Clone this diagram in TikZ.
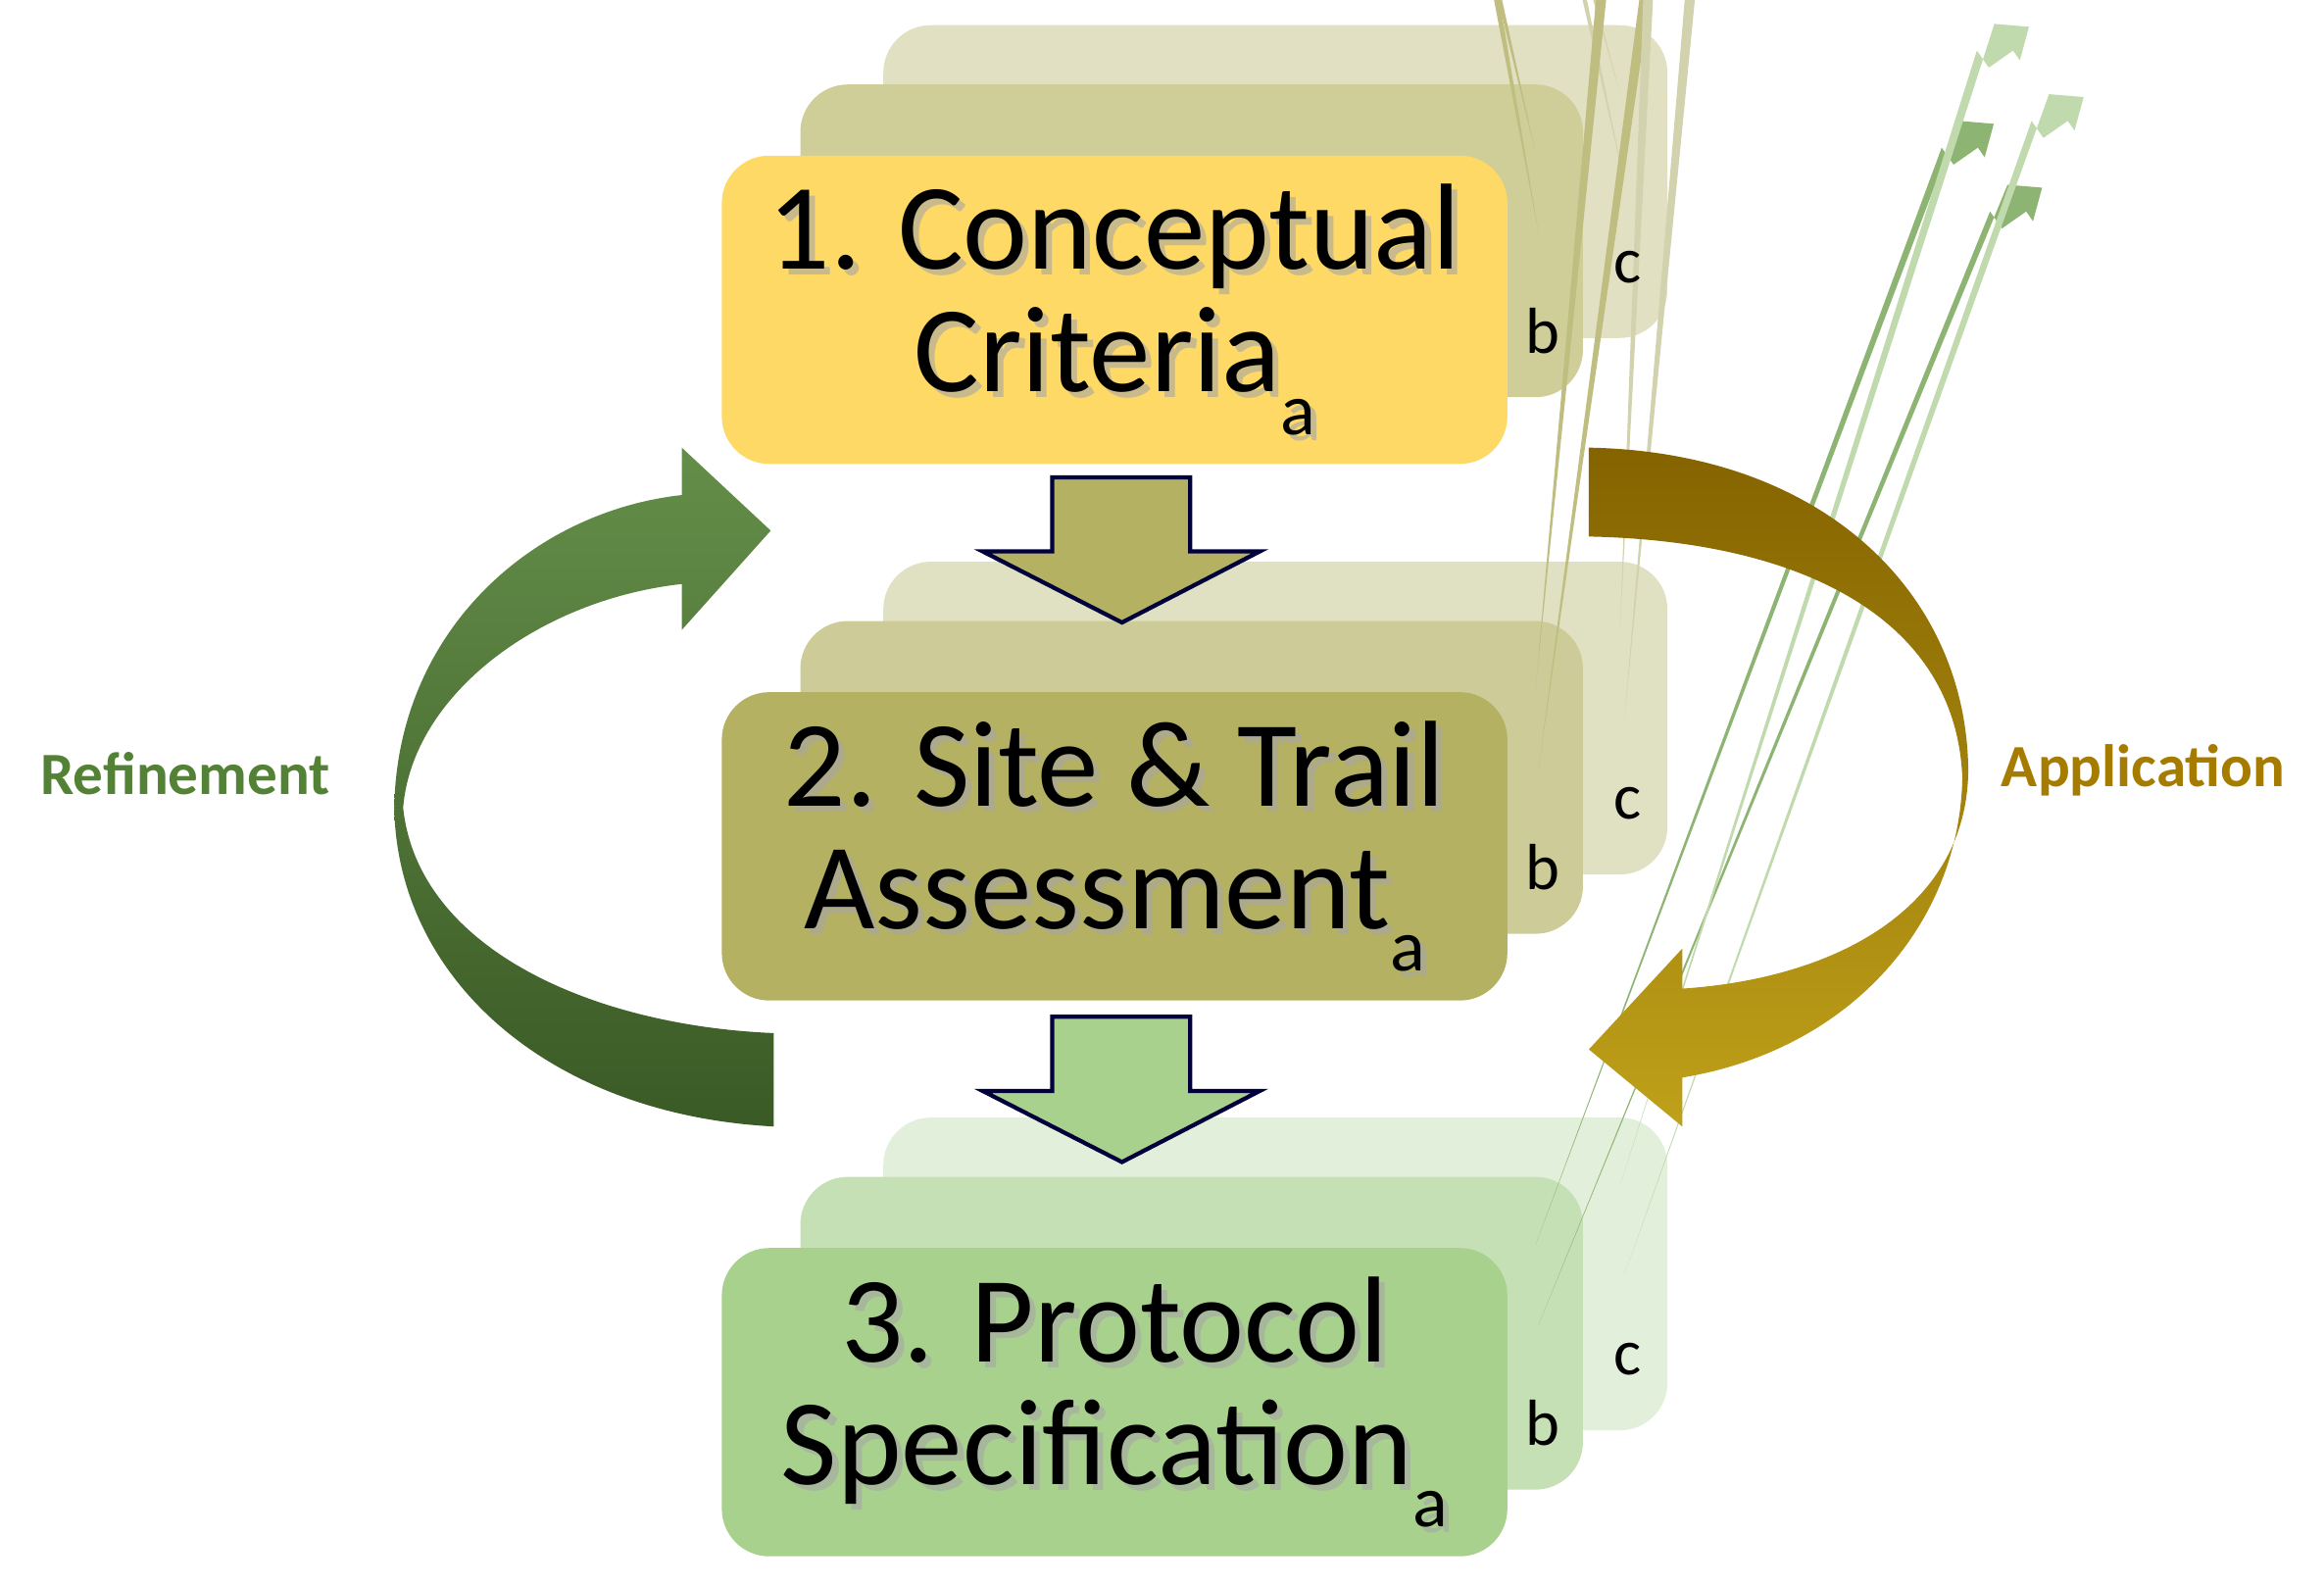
\documentclass[tikz,border=0pt]{standalone}
\usepackage{fontspec}
\setmainfont{Carlito}
\begin{document}
\begin{tikzpicture}[x=0.01cm,y=-0.01cm,
  box/.style={rounded corners=0.32cm},
  main/.style={align=center,font=\fontsize{23.5}{23.5}\selectfont},
  lab/.style={font=\fontsize{12.5}{12.5}\selectfont},
  side/.style={font=\bfseries\fontsize{11.5}{11.5}\selectfont},
  down/.style={draw=black!60!blue!60!black,line width=0.8pt,line join=miter}]
\definecolor{y1}{HTML}{FFD966}\definecolor{y2}{HTML}{CFCE98}\definecolor{y3}{HTML}{E1E0C3}
\definecolor{o1}{HTML}{B5B162}\definecolor{o2}{HTML}{CDCC98}\definecolor{o3}{HTML}{E0E0C2}
\definecolor{g1}{HTML}{A9D18E}\definecolor{g2}{HTML}{C5E0B4}\definecolor{g3}{HTML}{E2EFDA}
\definecolor{yb}{HTML}{BFBE80}\definecolor{yc}{HTML}{D3D2AE}
\definecolor{gb}{HTML}{8DB473}\definecolor{gc}{HTML}{C0DAAE}
\definecolor{refc}{HTML}{538135}\definecolor{appc}{HTML}{A67C00}
\useasboundingbox (0,0) rectangle (1568,1070);
\newcommand{\smallarrow}[3]{%
  \fill[#3] (#1,#2) ++(0,0) [rotate=35] -- ++(-20,-7) -- ++(0,14) -- ++(20,0) -- ++(0,8) -- ++(18,-15) -- ++(-18,-15) -- cycle;}
\newcommand{\stack}[5]{% top, c1,c2,c3, arrow colors b/c
  \fill[box,#4] (596,#1-88) rectangle (1125,#1+123);
  \fill[box,#3] (540,#1-48) rectangle (1068,#1+163);
  \fill[box,#2] (487,#1) rectangle (1017,#1+208);}
% stacks
\stack{105}{y1}{y2}{y3}{}
\stack{467}{o1}{o2}{o3}{}
\stack{842}{g1}{g2}{g3}{}
% small arrows
\foreach \t/\cb/\cc in {105/yb/yc,467/yb/yc,842/gb/gc}{
  \smallarrow{1036}{\t-2}{\cb}
  \smallarrow{1038}{\t+52}{\cb}
  \smallarrow{1093}{\t-42}{\cc}
  \smallarrow{1096}{\t+18}{\cc}
}
% labels b c
\foreach \t/\n in {105/1,467/2,842/3}{
  \node[lab] (b\n) at (1041,\t+118) {b};
  \node[lab] (c\n) at (1098,\t+75) {c};
}
% main texts
\begin{scope}
\node[main,text=black!35,opacity=0.6] at (756,213) {1. Conceptual\\Criteria\raisebox{-0.35em}{\fontsize{14}{14}\selectfont a}};
\node[main] (n1) at (752,209) {1. Conceptual\\Criteria\raisebox{-0.35em}{\fontsize{14}{14}\selectfont a}};
\node[main,text=black!35,opacity=0.6] at (756,575) {2. Site \& Trail\\Assessment\raisebox{-0.35em}{\fontsize{14}{14}\selectfont a}};
\node[main] (n2) at (752,571) {2. Site \& Trail\\Assessment\raisebox{-0.35em}{\fontsize{14}{14}\selectfont a}};
\node[main,text=black!35,opacity=0.6] at (756,950) {3. Protocol\\Specification\raisebox{-0.35em}{\fontsize{14}{14}\selectfont a}};
\node[main] (n3) at (752,946) {3. Protocol\\Specification\raisebox{-0.35em}{\fontsize{14}{14}\selectfont a}};
\end{scope}
% down arrows
\draw[down,fill=o1] (710,322) -- (803,322) -- (803,372) -- (850,372) -- (757,420) -- (663,372) -- (710,372) -- cycle;
\draw[down,fill=g1] (710,686) -- (803,686) -- (803,736) -- (850,736) -- (757,784) -- (663,736) -- (710,736) -- cycle;
% refinement arrow
\shade[top color=refc!90!white, bottom color=refc!70!black]
 (522,760) .. controls (370,752) and (268,660) .. (266,545)
 .. controls (268,425) and (360,345) .. (460,334)
 -- (460,302) -- (520,358) -- (460,425) -- (460,394)
 .. controls (362,405) and (278,470) .. (272,545)
 .. controls (282,640) and (400,692) .. (522,697) -- cycle;
% application arrow
\shade[top color=appc!80!black, bottom color=appc!80!yellow!90!white]
 (1072,302) .. controls (1230,305) and (1327,400) .. (1328,520)
 .. controls (1327,612) and (1240,660) .. (1135,667)
 -- (1135,640) -- (1072,708) -- (1135,760) -- (1135,727)
 .. controls (1250,708) and (1322,622) .. (1324,525)
 .. controls (1320,420) and (1220,365) .. (1072,362) -- cycle;
\node[side,text=refc] (ref) at (125,522) {Refinement};
\node[side,text=appc] (app) at (1446,520) {Application};
\end{tikzpicture}
\end{document}
